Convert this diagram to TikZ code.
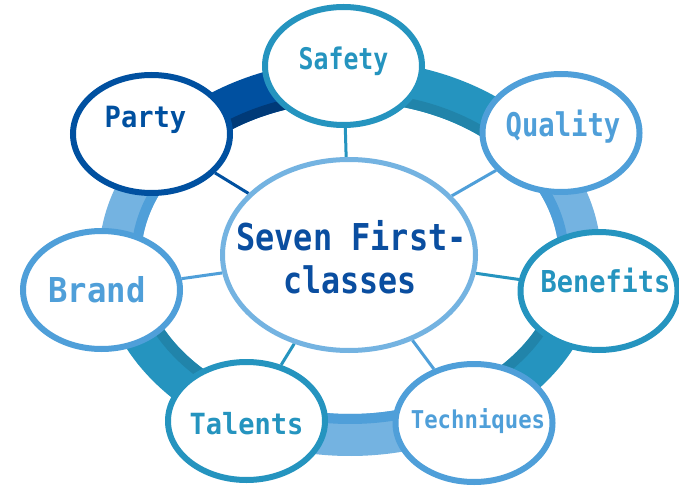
\documentclass[tikz,border=0pt]{standalone}
\usepackage{graphicx}
\usepackage{fontspec}
\setmonofont{DejaVu Sans Mono}
\usetikzlibrary{shapes.geometric,backgrounds,calc}
\definecolor{navy}{HTML}{0050A0}
\definecolor{navyd}{HTML}{003A78}
\definecolor{teal1}{HTML}{2594BF}
\definecolor{teald}{HTML}{2184AA}
\definecolor{mblue}{HTML}{4F9FD9}
\definecolor{lblue}{HTML}{74B3E1}
\definecolor{ctext}{HTML}{0A4EA0}
\newcommand{\lbl}[3]{\scalebox{1}[#2]{\fontsize{#1pt}{#1pt}\selectfont\ttfamily\bfseries #3}}
\tikzset{
  sat/.style={ellipse, draw=#1, line width=6pt, fill=white, minimum width=157pt, minimum height=118pt, inner sep=0pt},
  spoke/.style={line width=3pt, draw=#1},
  txt/.style={anchor=base, inner sep=0pt, text=#1}
}
\begin{document}
\begin{tikzpicture}[x=1pt,y=1pt]
\useasboundingbox (0,0) rectangle (679,485);
\coordinate (rc) at (350,227);
% center
\node[ellipse, draw=lblue, line width=5pt, fill=white, minimum width=253pt, minimum height=191pt, inner sep=0pt] (c) at (349,230) {};
% satellites
\node[sat=navy]  (party)  at (151.5,351) {};
\node[sat=teal1] (safety) at (343.5,419) {};
\node[sat=mblue] (quality) at (561,352) {};
\node[sat=teal1] (benefits) at (599,194) {};
\node[sat=mblue] (tech) at (474,62) {};
\node[sat=teal1] (talents) at (246.5,64) {};
\node[sat=mblue] (brand) at (101.5,195) {};
% ring and spokes behind
\begin{pgfonlayer}{background}
\fill[white] (0,0) rectangle (679,485);
\foreach \a/\b/\m/\i in {92/141/navy/navyd, 37.6/92/teal1/teald, -9.8/37.6/lblue/mblue, -60/-9.8/teal1/teald, -116/-60/lblue/mblue, -170.5/-116/teal1/teald, 141/189.5/lblue/mblue}{
  \draw[line width=42pt, draw=\m] ($(rc)+(\a:230pt and 177pt)$) arc[start angle=\a, end angle=\b, x radius=230pt, y radius=177pt];
  \draw[line width=10pt, draw=\i] ($(rc)+(\a:214pt and 161pt)$) arc[start angle=\a, end angle=\b, x radius=214pt, y radius=161pt];
}
\draw[spoke=navy] (c) -- (party);
\draw[spoke=teal1] (c) -- (safety);
\draw[spoke=mblue] (c) -- (quality);
\draw[spoke=teal1] (c) -- (benefits);
\draw[spoke=mblue] (c) -- (tech);
\draw[spoke=teal1] (c) -- (talents);
\draw[spoke=mblue] (c) -- (brand);
\end{pgfonlayer}
% texts
\node[txt=ctext] (t1) at (351.5,235) {\lbl{31.9}{1.16}{Seven First-}};
\node[txt=ctext] (t2) at (350,192) {\lbl{31.6}{1.16}{classes}};
\node[txt=navy] (tparty) at (145.5,357) {\lbl{27.1}{1.08}{Party}};
\node[txt=teal1] (tsafety) at (343.5,415) {\lbl{24.8}{1.2}{Safety}};
\node[txt=mblue] (tquality) at (563,348) {\lbl{27.2}{1.2}{Quality}};
\node[txt=mblue] (tbrand) at (97,183) {\lbl{32.3}{1.06}{Brand}};
\node[txt=teal1] (ttalents) at (246.5,51) {\lbl{27}{1.08}{Talents}};
\node[txt=teal1] (tbenefits) at (605.5,193) {\lbl{26.9}{1.12}{Benefits}};
\node[txt=mblue] (ttech) at (478,57) {\lbl{22.3}{1.1}{Techniques}};
\end{tikzpicture}
\end{document}
